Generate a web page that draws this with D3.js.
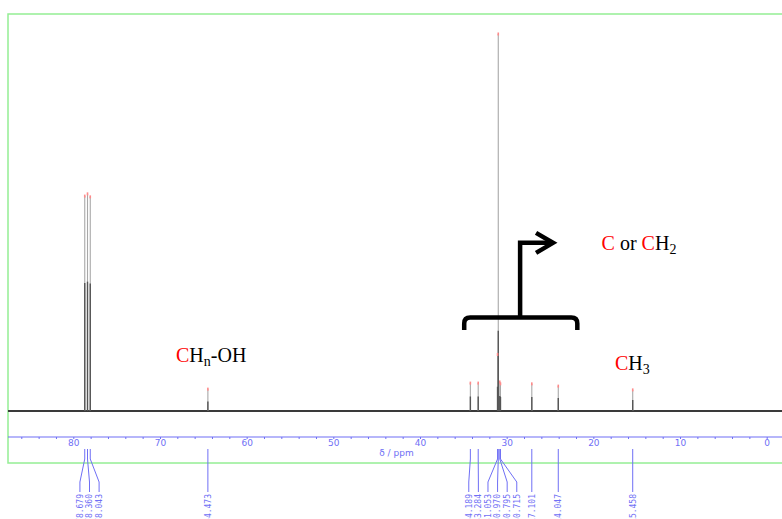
<!DOCTYPE html>
<html>
  <head>
    <meta charset="utf-8">
    <title>13C NMR spectrum</title>
    <script src="https://d3js.org/d3.v7.min.js"></script>
    <style>
      body { margin: 0; background: #fff; }
      svg { display: block; }
      .tick text { font-family: "DejaVu Sans", sans-serif; }
    </style>
  </head>
  <body>
    <div id="chart"></div>
    <script>

// peak positions (ppm), heights (% of the largest) and half widths (ppm)
var peakPpm    = [78.679, 78.360, 78.043, 64.473, 34.189, 33.284, 31.053, 30.970, 30.795, 30.715, 27.101, 24.047, 15.458];
var peakHeight = [57.0,   57.6,   56.8,   5.8,    7.4,    7.4,    15.0,   100,    7.7,    7.2,    7.2,    6.6,    5.6];
var peakWidth  = [0.07,   0.07,   0.07,   0.05,   0.06,   0.06,   0.05,   0.03,   0.06,   0.06,   0.06,   0.06,   0.06];
var peakLabels = peakPpm.map(function (d) { return d.toFixed(3); });

// axis ticks
var majorTicks = [80, 70, 60, 50, 40, 30, 20, 10, 0];
var minorTicks = d3.range(86, -1, -2);

var width = 782, height = 519;

var svg = d3.select("#chart").append("svg")
  .attr("width", width)
  .attr("height", height);

var x = d3.scaleLinear().domain([80, 0]).range([73.3, 766.7]);
var y = d3.scaleLinear().domain([0, 100]).range([411, 34]);

var axisY = 437;
var blue = "#6f6ff5";

// green frame
svg.append("rect")
  .attr("x", 8).attr("y", 14)
  .attr("width", 800).attr("height", 449)
  .attr("fill", "none")
  .attr("stroke", "#94ee94")
  .attr("stroke-width", 1.5);

// baseline
var baseLine = d3.line()
  .x(function (d) { return x(d); })
  .y(function () { return y(0); });
svg.append("path")
  .datum([x.invert(8), x.invert(782)])
  .attr("d", baseLine)
  .attr("fill", "none")
  .attr("stroke", "#3a3a3a")
  .attr("stroke-width", 1.8);

var peaks = peakPpm.map(function (p, i) {
  return { ppm: p, h: peakHeight[i], w: peakWidth[i], label: peakLabels[i] };
});

// the part of each peak that is wider than a pixel reads dark
function darkPart(d) {
  var g = d.w * Math.abs(x(1) - x(0));
  return d.h * (4 * g * g) / (4 * g * g + 1);
}

var peakG = svg.append("g");
peakG.selectAll(".thin").data(peaks).enter().append("line")
  .attr("x1", function (d) { return x(d.ppm); })
  .attr("x2", function (d) { return x(d.ppm); })
  .attr("y1", y(0))
  .attr("y2", function (d) { return y(d.h); })
  .attr("stroke", "#a8a8a8")
  .attr("stroke-width", 1.1);

peakG.selectAll(".dark").data(peaks).enter().append("line")
  .attr("x1", function (d) { return x(d.ppm); })
  .attr("x2", function (d) { return x(d.ppm); })
  .attr("y1", y(0))
  .attr("y2", function (d) { return y(darkPart(d)); })
  .attr("stroke", "#555")
  .attr("stroke-width", 1.4);

// peak pick markers
peakG.selectAll(".mark").data(peaks).enter().append("rect")
  .attr("x", function (d) { return x(d.ppm) - 0.8; })
  .attr("y", function (d) { return y(d.h) - 1.5; })
  .attr("width", 1.6)
  .attr("height", 3)
  .attr("fill", "#ff8a8a");

// axis
svg.append("line")
  .attr("x1", 8).attr("x2", 782)
  .attr("y1", axisY).attr("y2", axisY)
  .attr("stroke", blue)
  .attr("stroke-width", 1.2);

var axis = d3.axisBottom(x)
  .tickValues(minorTicks)
  .tickSize(2)
  .tickPadding(1)
  .tickFormat(function (d) { return majorTicks.indexOf(d) >= 0 ? d : ""; });

var axisG = svg.append("g")
  .attr("transform", "translate(0," + axisY + ")")
  .call(axis);
axisG.select(".domain").remove();
axisG.selectAll(".tick line").attr("stroke", blue);
axisG.selectAll(".tick text")
  .attr("fill", blue)
  .style("font-size", "9px");

svg.append("text")
  .attr("x", x(44.7))
  .attr("y", 456)
  .attr("fill", blue)
  .style("font-family", "DejaVu Sans, sans-serif")
  .style("font-size", "9px")
  .text("δ / ppm");

// label placement: spread overlapping labels around their mean
var gap = 9.6;
var groups = peaks.slice().sort(function (a, b) { return x(a.ppm) - x(b.ppm); })
  .map(function (d) { return { members: [d], center: x(d.ppm) }; });
var merged = true;
while (merged) {
  merged = false;
  for (var i = 0; i < groups.length - 1; i++) {
    var a = groups[i], b = groups[i + 1];
    var aRight = a.center + (a.members.length - 1) / 2 * gap;
    var bLeft = b.center - (b.members.length - 1) / 2 * gap;
    if (bLeft - aRight < gap) {
      var m = a.members.concat(b.members);
      groups.splice(i, 2, { members: m, center: d3.mean(m, function (d) { return x(d.ppm); }) + 2 });
      merged = true;
      break;
    }
  }
}
groups.forEach(function (g) {
  g.members.forEach(function (d, j) {
    d.lx = g.members.length === 1 ? x(d.ppm) : g.center + (j - (g.members.length - 1) / 2) * gap;
  });
});

var leadG = svg.append("g");
leadG.selectAll("path").data(peaks).enter().append("path")
  .attr("d", function (d) {
    var px = x(d.ppm);
    return "M" + px + ",449L" + px + ",459L" + d.lx + ",482L" + d.lx + ",492";
  })
  .attr("fill", "none")
  .attr("stroke", blue)
  .attr("stroke-width", 1);

// the reference is cropped through the first digit of these labels
leadG.selectAll("text").data(peaks).enter().append("text")
  .attr("transform", function (d) { return "translate(" + d.lx + ",494) rotate(-90)"; })
  .attr("text-anchor", "end")
  .attr("dy", "0.35em")
  .attr("fill", blue)
  .style("font-family", "DejaVu Sans Mono, monospace")
  .style("font-size", "8px")
  .text(function (d) { return d.label; });

// annotations
function label(ppm, h, parts) {
  var t = svg.append("text")
    .attr("x", x(ppm)).attr("y", y(h))
    .style("font-family", "Liberation Serif, Times New Roman, serif")
    .style("font-size", "20px");
  parts.forEach(function (p) {
    var s = t.append("tspan")
      .attr("fill", p.red ? "#ff0000" : "#000")
      .text(p.t);
    if (p.sub) s.style("font-size", "14px").attr("dy", 4);
    if (p.up) s.attr("dy", -4);
  });
}
label(68.15, 13.0, [{ t: "C", red: true }, { t: "H" }, { t: "n", sub: true }, { t: "-OH", up: true }]);
label(19.05, 42.7, [{ t: "C", red: true }, { t: " or " }, { t: "C", red: true }, { t: "H" }, { t: "2", sub: true }]);
label(17.5, 10.9, [{ t: "C", red: true }, { t: "H" }, { t: "3", sub: true }]);

// bracket and arrow
var bl = x(34.9), br = x(21.85), bm = x(28.45);
var by = y(24.8), bEnd = y(21.5), stemTop = y(44.6), tip = x(24.65);
var annG = svg.append("g")
  .attr("fill", "none")
  .attr("stroke", "#000")
  .attr("stroke-width", 4.5);
annG.append("path")
  .attr("d", "M" + bl + "," + bEnd + "L" + bl + "," + (by + 6) +
    "Q" + bl + "," + by + " " + (bl + 6) + "," + by +
    "L" + (br - 6) + "," + by +
    "Q" + br + "," + by + " " + br + "," + (by + 6) +
    "L" + br + "," + bEnd);
annG.append("path")
  .attr("stroke-linejoin", "miter")
  .attr("d", "M" + bm + "," + by + "L" + bm + "," + stemTop + "L" + tip + "," + stemTop);
annG.append("path")
  .attr("stroke-linejoin", "miter")
  .attr("d", "M" + (tip - 17) + "," + (stemTop - 10) + "L" + tip + "," + stemTop + "L" + (tip - 17) + "," + (stemTop + 10));

    </script>
  </body>
</html>
